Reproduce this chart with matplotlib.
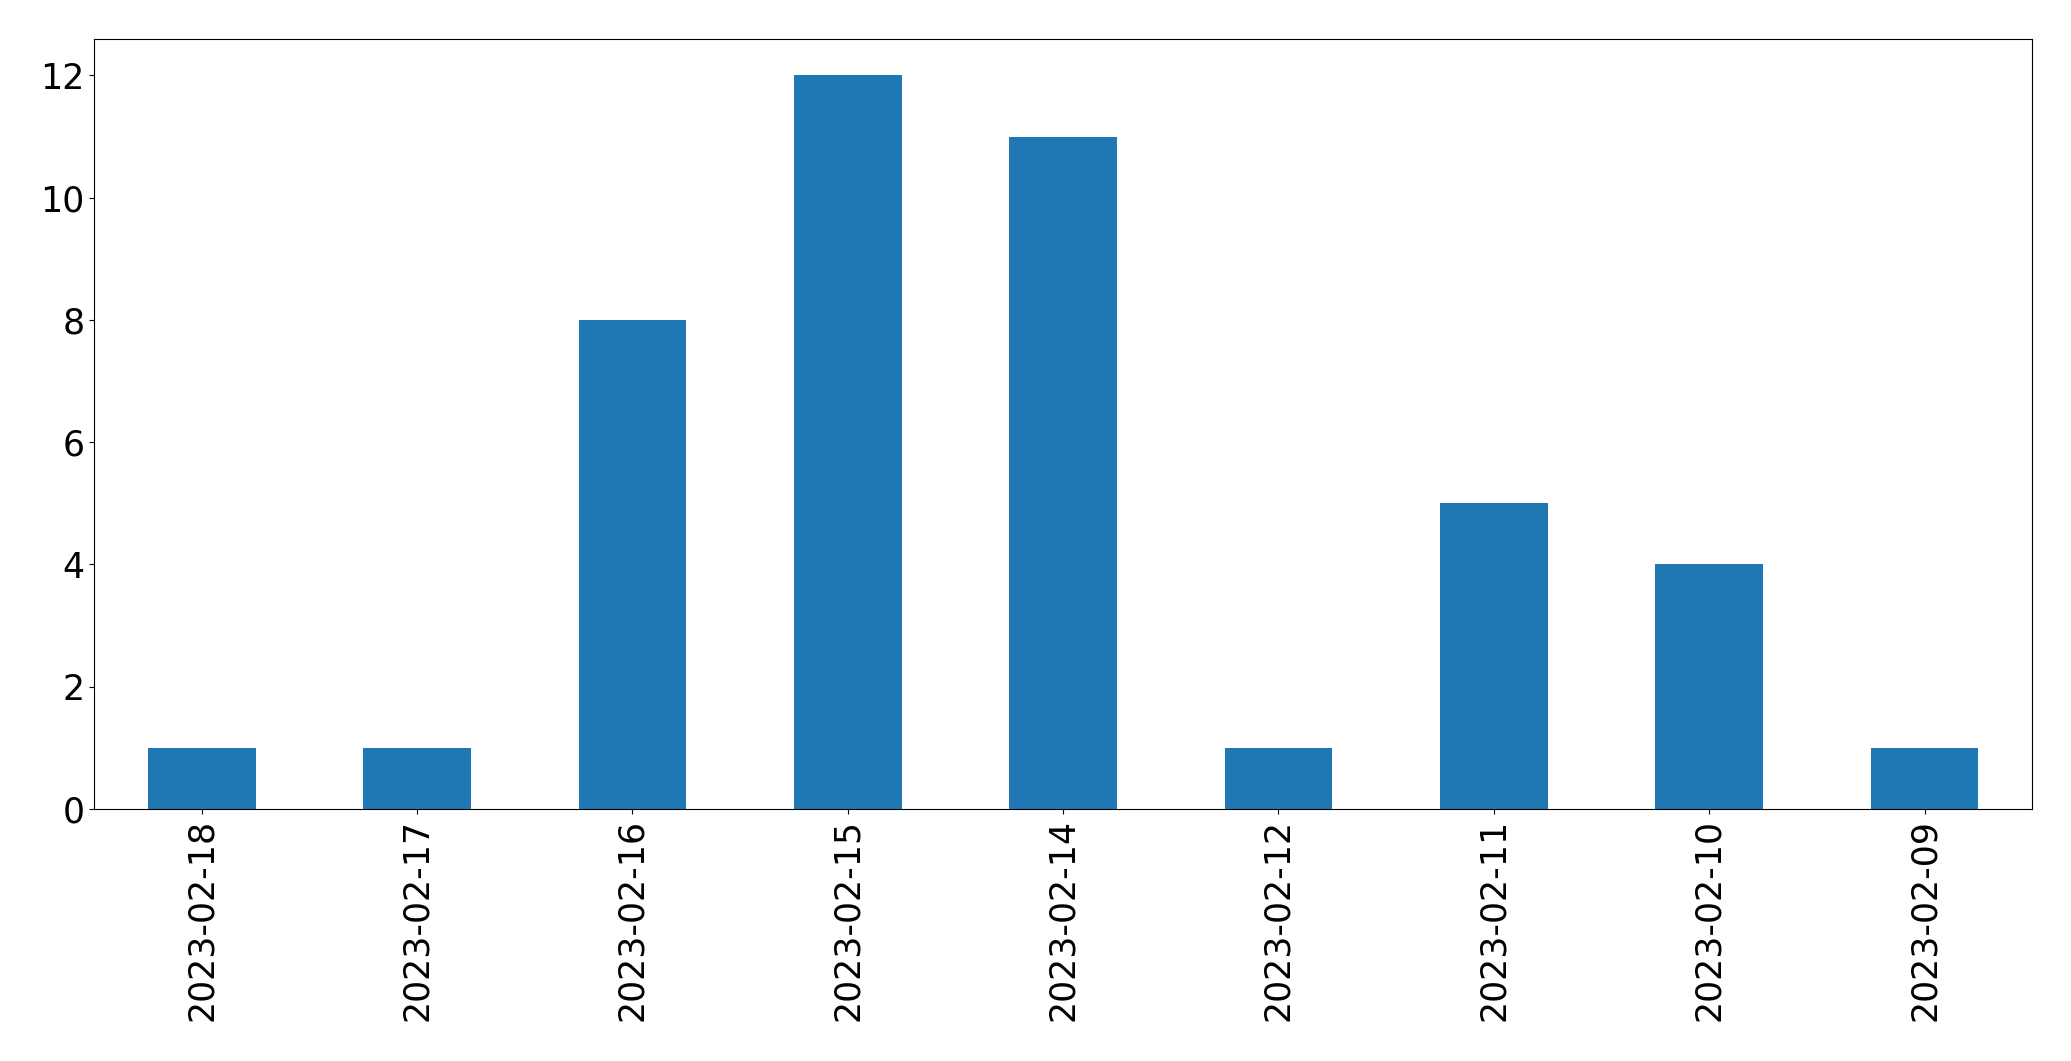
import matplotlib
matplotlib.use("Agg")
import matplotlib.pyplot as plt
import pandas as pd

dates = ['2023-02-18', '2023-02-17', '2023-02-16', '2023-02-15', '2023-02-14',
         '2023-02-12', '2023-02-11', '2023-02-10', '2023-02-09']
counts = [1, 1, 8, 12, 11, 1, 5, 4, 1]

W, H = 2071, 1061
# small pad so float truncation still gives the exact pixel size
fig = plt.figure(figsize=((W + 0.2) / 100, (H + 0.2) / 100), dpi=100)
ax = fig.add_axes([94 / W, 1 - 809 / H, (2032 - 94) / W, (809 - 39) / H])

s = pd.Series(counts, index=dates)
s.plot(kind='bar', ax=ax, color='#1f77b4', fontsize=25)

fig.savefig('out.png', dpi=100)
